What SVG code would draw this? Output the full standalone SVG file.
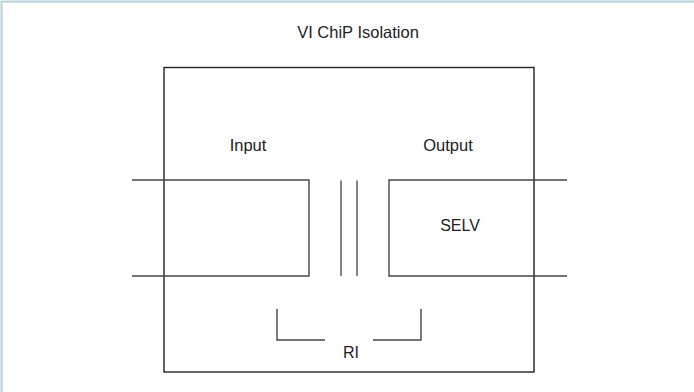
<svg xmlns="http://www.w3.org/2000/svg" width="694" height="392" viewBox="0 0 694 392">
<style>
.t{font-family:"Liberation Sans",Arial,sans-serif;font-size:16.5px;fill:#222;text-anchor:middle}
.box{fill:none;stroke:#222;stroke-width:1.4}
.ln{fill:none;stroke:#444;stroke-width:1.4}
.tr{fill:none;stroke:#666;stroke-width:1.6}
</style>
<rect x="0" y="0" width="694" height="392" fill="#fff"/>
<path d="M1.5,392 V1.5 H694" fill="none" stroke="#b8d0da" stroke-width="2"/>
<text class="t" x="358" y="38">VI ChiP Isolation</text>
<g id="chip">
<rect class="box" x="164" y="67.5" width="370" height="304.5"/>
</g>
<g id="input">
<text class="t" x="248" y="151">Input</text>
</g>
<g id="output">
<text class="t" x="448" y="151">Output</text>
<text class="t" x="460" y="231" style="font-size:16px">SELV</text>
</g>
<g id="ri">
<text class="t" x="351" y="358" style="font-size:16px">RI</text>
</g>
<g id="connectors">
<path class="ln" d="M132,180 H309 V276 H132"/>
<path class="ln" d="M567,180 H389 V276 H567"/>
<path class="tr" d="M341,180.5 V276 M357,180.5 V276"/>
<path class="ln" d="M277,309 V340 H325"/>
<path class="ln" d="M373,340 H421 V309"/>
</g>
</svg>
